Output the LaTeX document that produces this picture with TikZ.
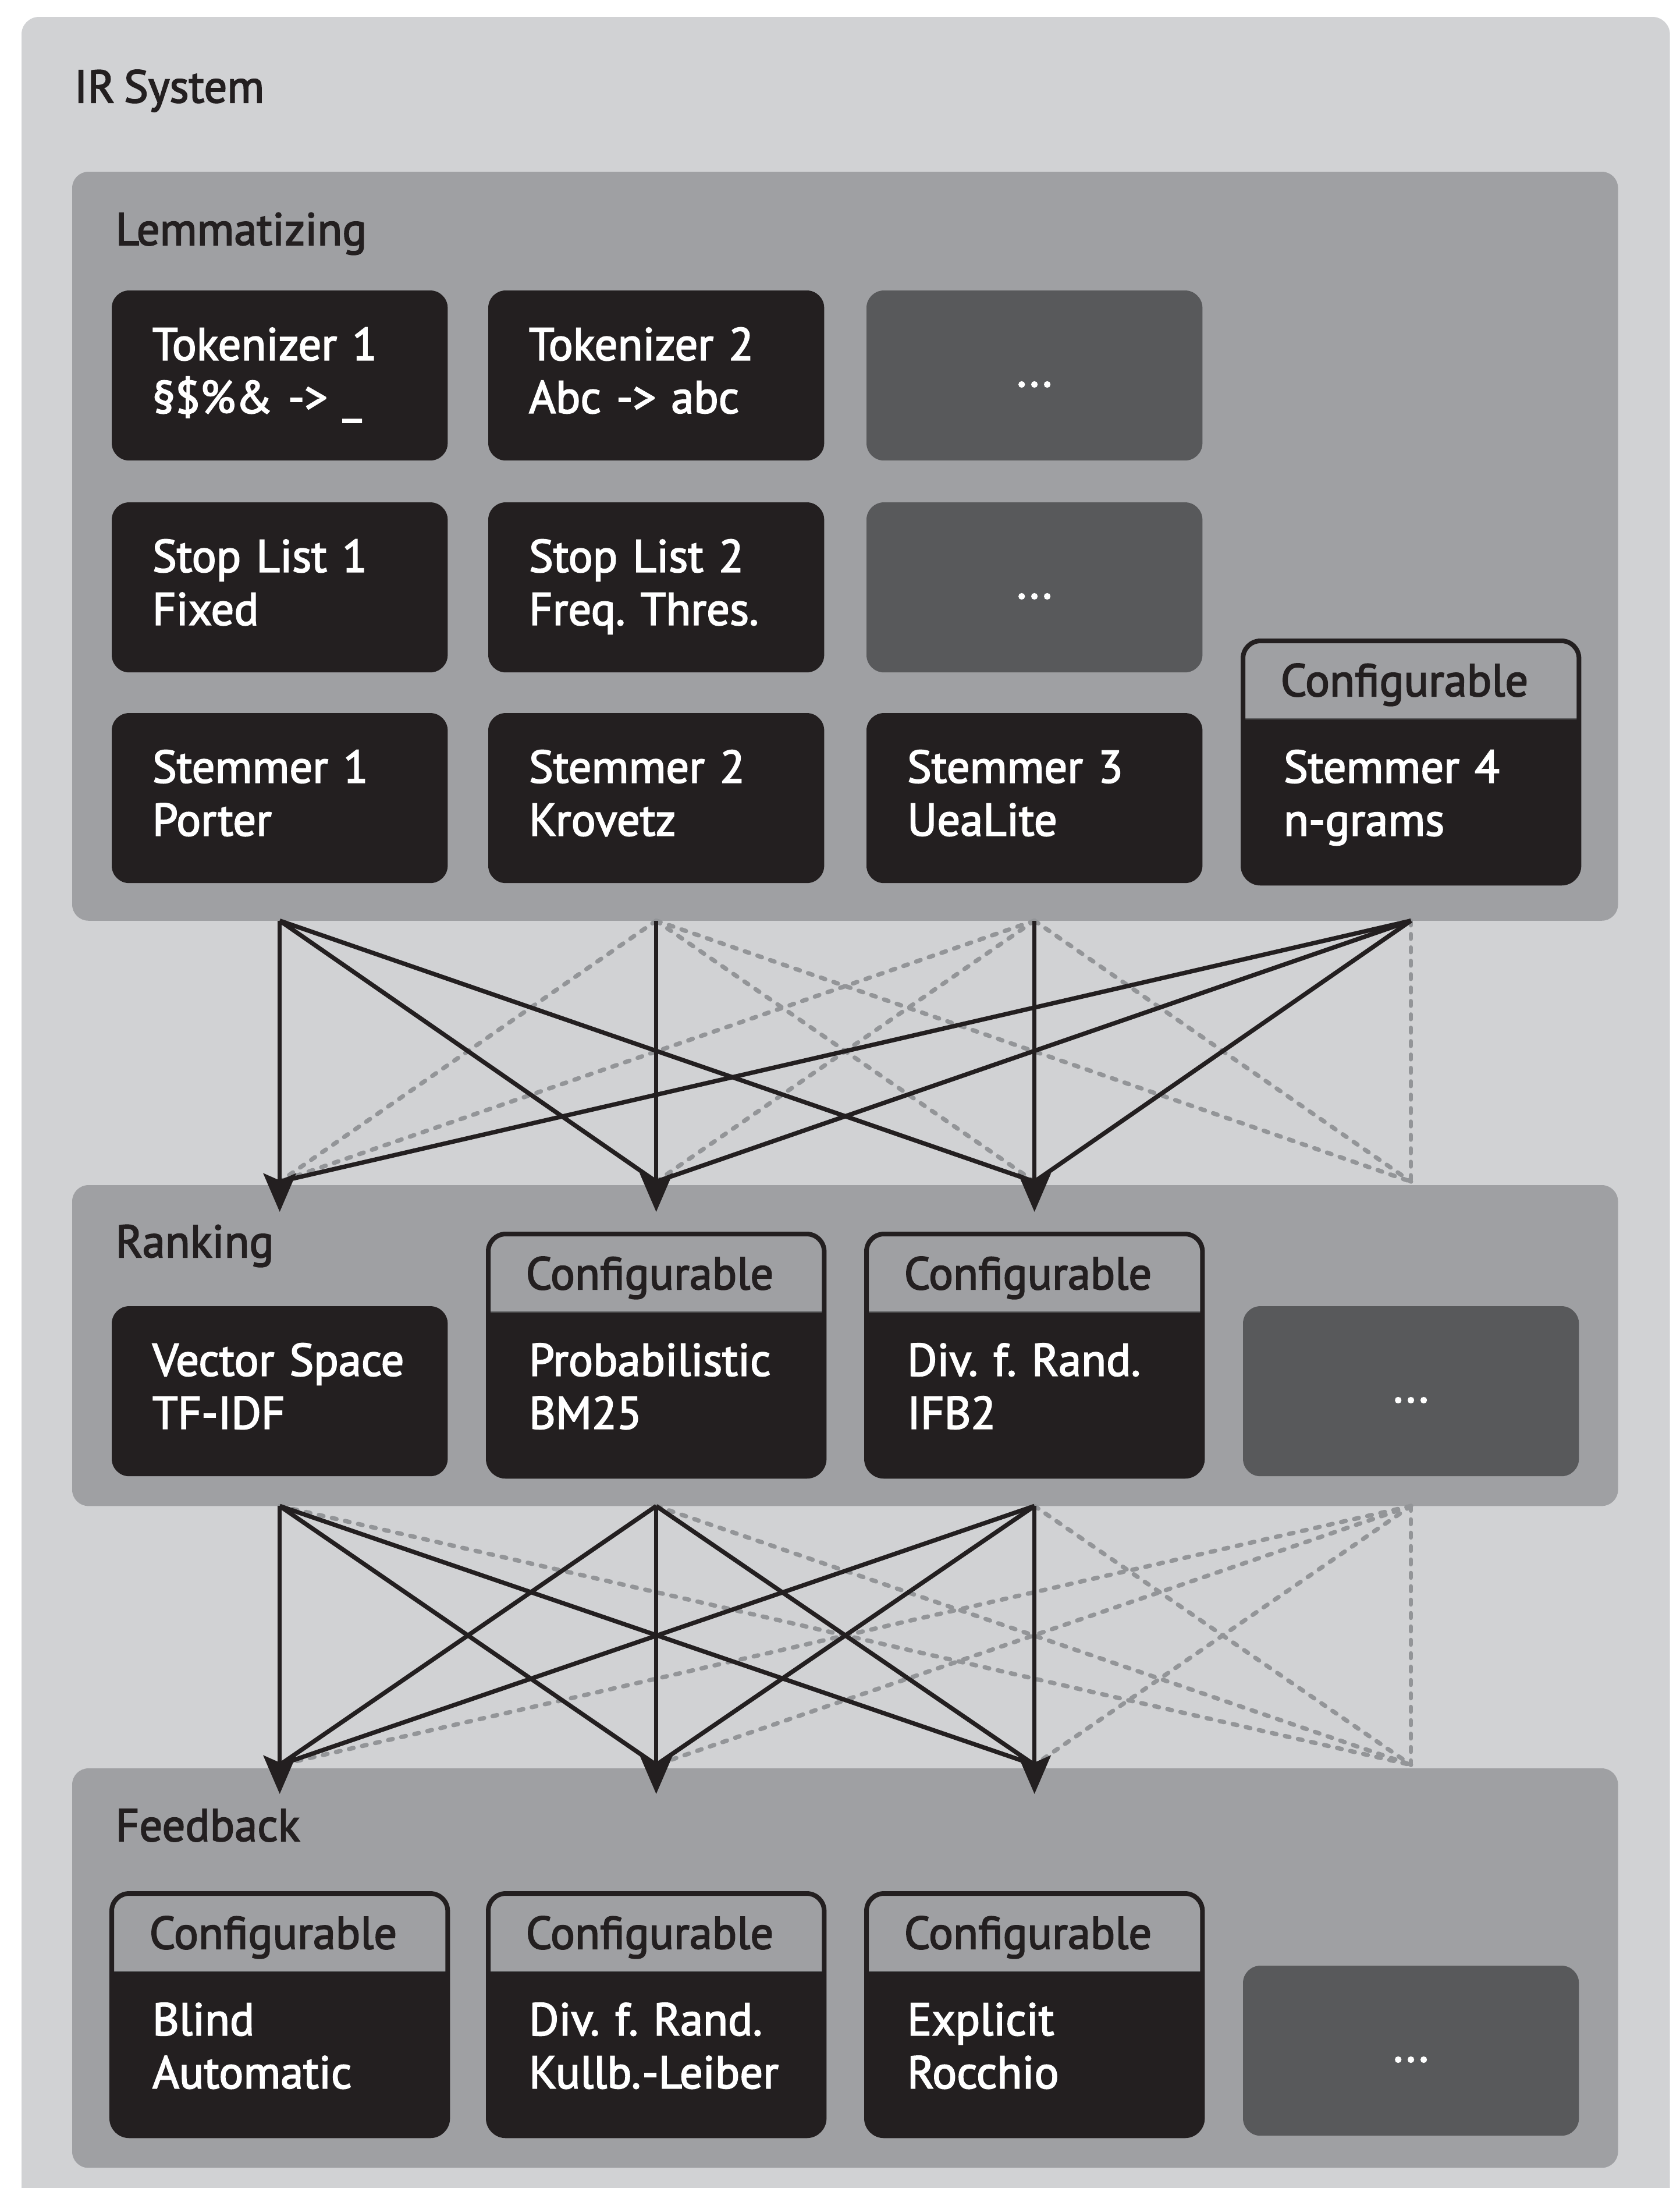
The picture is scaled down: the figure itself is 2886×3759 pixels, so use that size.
\documentclass[tikz,border=0pt]{standalone}
\usepackage{fontspec}
\setmainfont{PT Sans}[FakeBold=2.5, WordSpace=0.75]
\frenchspacing
\usetikzlibrary{arrows.meta,calc}
\definecolor{cDark}{HTML}{231F20}
\definecolor{cMid}{HTML}{9FA0A3}
\definecolor{cLight}{HTML}{D1D2D4}
\definecolor{cMore}{HTML}{58595B}
\definecolor{cDash}{HTML}{939598}
\newcommand\twoln[2]{\rule{0pt}{0.62cm}#1\\#2\rule[-0.24cm]{0pt}{0.24cm}}
\newcommand\oneln[1]{\rule{0pt}{0.62cm}#1\rule[-0.24cm]{0pt}{0.24cm}}
% configurable module: #1 name, #2 X, #3 Y, #4 text
\newcommand\cfgmod[4]{%
  \node[cfgfill] (#1f) at (#2,#3-124) {};
  \begin{scope}
    \clip[rounded corners=0.3cm] (#1f.north west) rectangle (#1f.south east);
    \fill[cMid] (#1f.north west) rectangle (#2+577,#3+10);
  \end{scope}
  \draw[draw=cMore, line width=0.02cm] (#2,#3+10) -- (#2+577,#3+10);
  \draw[cfgframe] (#1f.north west) rectangle (#1f.south east);
  \node[cfgtext] (#1h) at (#2+64,#3-29) {Configurable};
  \node[modbox, fill=none] (#1) at (#2,#3) {#4};
}
\begin{document}
\begin{tikzpicture}[x=0.01cm, y=-0.01cm,
  every node/.style={font=\fontsize{22.36pt}{25.9pt}\selectfont},
  outerbox/.style={fill=cLight, rounded corners=0.3cm, anchor=north west,
    minimum width=28.31cm, minimum height=38cm, inner sep=0, outer sep=0},
  groupbox/.style={fill=cMid, rounded corners=0.28cm, anchor=north west,
    minimum width=26.55cm, inner sep=0, outer sep=0},
  grouptitle/.style={anchor=base west, text=cDark, inner sep=0},
  modbox/.style={fill=cDark, text=white, rounded corners=0.3cm, anchor=north west,
    minimum width=5.77cm, minimum height=2.92cm, inner xsep=0.7cm, inner ysep=0,
    text width=4.37cm, align=left, outer sep=0},
  morebox/.style={fill=cMore, text=white, rounded corners=0.3cm, anchor=north west,
    minimum width=5.77cm, minimum height=2.92cm, inner sep=0, align=center, outer sep=0},
  cfgfill/.style={fill=cDark, rounded corners=0.3cm, anchor=north west,
    minimum width=5.77cm, minimum height=4.16cm, inner sep=0, outer sep=0},
  cfgtext/.style={anchor=base west, text=cDark, inner sep=0},
  cfgframe/.style={draw=cDark, line width=0.08cm, rounded corners=0.3cm},
  solidline/.style={draw=cDark, line width=0.075cm},
  dashline/.style={draw=cDash, line width=0.075cm, line cap=round,
    dash pattern=on 0.08cm off 0.15cm},
  arrowline/.style={solidline, -{Stealth[length=0.66cm, width=0.56cm, inset=0.12cm]}},
]
\useasboundingbox (0,0) rectangle (2886,3759);

% containers
\node[outerbox] (sys) at (37,29) {};
\node[grouptitle] (systitle) at (127,176) {IR System};
\node[groupbox, minimum height=12.86cm] (lemm) at (124,295) {};
\node[grouptitle] (lemmtitle) at (198,421) {Lemmatizing};
\node[groupbox, minimum height=5.51cm] (rank) at (124,2036) {};
\node[grouptitle] (ranktitle) at (198,2160) {Ranking};
\node[groupbox, minimum height=6.86cm] (feed) at (124,3038) {};
\node[grouptitle] (feedtitle) at (198,3163) {Feedback};

% Lemmatizing modules
\node[modbox] (tok1) at (192,499) {\twoln{Tokenizer 1}{§\$\%\& -> \_}};
\node[modbox] (tok2) at (839,499) {\twoln{Tokenizer 2}{Abc -> abc}};
\node[morebox] (lmore1) at (1489,499) {\oneln{...}};
\node[modbox] (stop1) at (192,863) {\twoln{Stop List 1}{Fixed}};
\node[modbox] (stop2) at (839,863) {\twoln{Stop List 2}{Freq. Thres.}};
\node[morebox] (lmore2) at (1489,863) {\oneln{...}};
\node[modbox] (stem1) at (192,1225) {\twoln{Stemmer 1}{Porter}};
\node[modbox] (stem2) at (839,1225) {\twoln{Stemmer 2}{Krovetz}};
\node[modbox] (stem3) at (1489,1225) {\twoln{Stemmer 3}{UeaLite}};
\cfgmod{stem4}{2136}{1225}{\twoln{Stemmer 4}{n-grams}}

% Ranking modules
\node[modbox] (vsm) at (192,2244) {\twoln{Vector Space}{TF-IDF}};
\cfgmod{bm}{839}{2244}{\twoln{Probabilistic}{BM25}}
\cfgmod{dfr}{1489}{2244}{\twoln{Div. f. Rand.}{IFB2}}
\node[morebox] (rmore) at (2136,2244) {\oneln{...}};

% Feedback modules
\cfgmod{blind}{192}{3377}{\twoln{Blind}{Automatic}}
\cfgmod{kl}{839}{3377}{\twoln{Div. f. Rand.}{Kullb.{}\kern0.02cm-Leiber}}
\cfgmod{expl}{1489}{3377}{\twoln{Explicit}{Rocchio}}
\node[morebox] (fmore) at (2136,3377) {\oneln{...}};

% connector end points
\foreach \i/\m in {1/stem1, 2/stem2, 3/stem3, 4/stem4} {
  \coordinate (a\i) at (\m.center |- lemm.south);
  \coordinate (b\i) at ($(\m.center |- rank.north)+(0,-6)$);
  \coordinate (bt\i) at ($(\m.center |- rank.north)+(0,46)$);
  \coordinate (c\i) at (\m.center |- rank.south);
  \coordinate (d\i) at ($(\m.center |- feed.north)+(0,-6)$);
  \coordinate (dt\i) at ($(\m.center |- feed.north)+(0,44)$);
}

% Lemmatizing -> Ranking
\foreach \s/\t in {a2/b1, a2/b3, a2/b4, a3/b1, a3/b2, a3/b4, a4/b4}
  \draw[dashline] (\s) -- (\t);
\foreach \s/\t in {a1/b2, a1/b3, a4/b1, a4/b2, a4/b3}
  \draw[solidline] (\s) -- (\t);
\foreach \s/\t in {a1/bt1, a2/bt2, a3/bt3}
  \draw[arrowline] (\s) -- (\t);

% Ranking -> Feedback
\foreach \s/\t in {c1/d4, c2/d4, c3/d4, c4/d1, c4/d2, c4/d3, c4/d4}
  \draw[dashline] (\s) -- (\t);
\foreach \s/\t in {c1/d2, c1/d3, c2/d1, c2/d3, c3/d1, c3/d2}
  \draw[solidline] (\s) -- (\t);
\foreach \s/\t in {c1/dt1, c2/dt2, c3/dt3}
  \draw[arrowline] (\s) -- (\t);
\end{tikzpicture}
\end{document}
